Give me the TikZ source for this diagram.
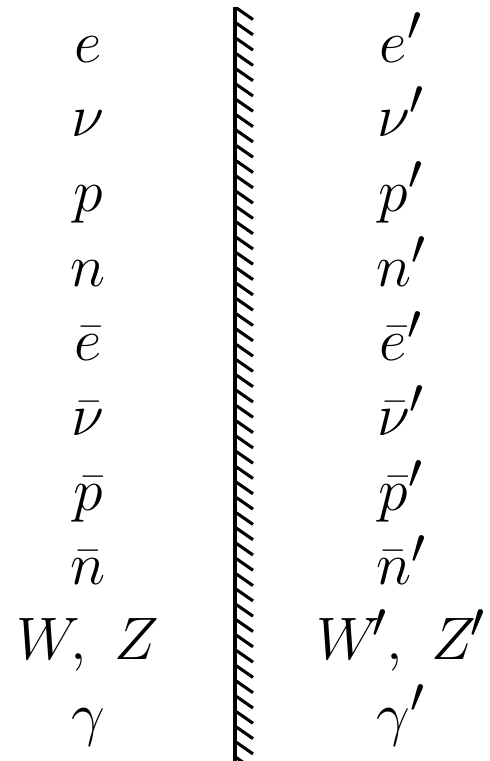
\documentclass[tikz,border=0pt]{standalone}
\newcommand{\bigsym}[1]{\scalebox{2.41}{\Huge$#1$}}
\begin{document}
\begin{tikzpicture}[x=1pt,y=-1pt,
  lbl/.style={anchor=base,inner sep=0pt},
  wall/.style={line width=4.2pt},
  hatch/.style={line width=3.1pt}]
\useasboundingbox (0,0) rectangle (490,761);
\foreach \name/\y/\l/\r in {a/62/e/e',b/136.7/\nu/\nu',c/211.4/p/p',d/286.1/n/n',
  f/360.8/\bar e/\bar e',g/435.5/\bar\nu/\bar\nu',h/510.2/\bar p/\bar p',
  i/584.9/\bar n/\bar n',j/659.6/{W,\ Z}/{W^{\!\prime},\ Z^{\mkern-2mu\prime}},k/734.3/\gamma/\gamma'}{
  \node[lbl] (L\name) at (88,\y) {\bigsym{\l}};
  \node[lbl] (R\name) at (401,\y) {\bigsym{\r}};
}
\draw[wall] (235.3,7) -- (235.3,761);
\foreach \y in {8,23.3,...,761}{
  \draw[hatch] (236.5,\y) -- (253,\y+11.5);
}
\end{tikzpicture}
\end{document}
